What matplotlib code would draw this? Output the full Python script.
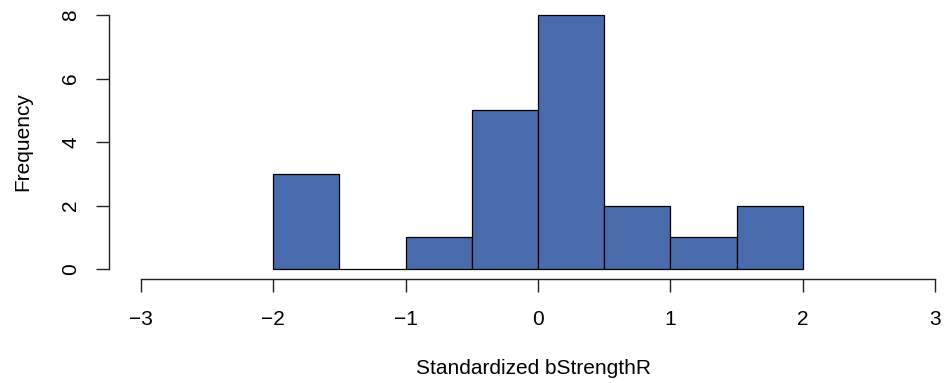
import matplotlib
matplotlib.use('Agg')
import matplotlib.pyplot as plt
import numpy as np

# histogram of standardized bStrengthR (bin edges + counts)
bin_edges = [-2.0, -1.5, -1.0, -0.5, 0.0, 0.5, 1.0, 1.5, 2.0]
counts = [3, 0, 1, 5, 8, 2, 1, 2]
x_ticks = [-3, -2, -1, 0, 1, 2, 3]
y_ticks = [0, 2, 4, 6, 8]

plt.rcParams['font.family'] = ['Liberation Sans', 'DejaVu Sans']

fig = plt.figure(figsize=(9.44, 3.83), dpi=100)
# R-style plot region: 4% padding around the axis ranges, partly off the right edge
ax = fig.add_axes([0.1155, 0.271, 0.9089, 0.7164])

edges = np.array(bin_edges)
ax.bar(edges[:-1], counts, width=np.diff(edges), align='edge',
	color='#4A6BAB', edgecolor='#000000', linewidth=0.9)

ax.set_xlim(-3.24, 3.24)
ax.set_ylim(-0.32, 8.32)

for side in ['top', 'right']:
	ax.spines[side].set_visible(False)
ax.spines['left'].set_bounds(0, 8)
ax.spines['bottom'].set_bounds(-3, 3)
for side in ['left', 'bottom']:
	ax.spines[side].set_linewidth(1.0)
	ax.spines[side].set_color('#222222')

ax.set_xticks(x_ticks)
ax.set_xticklabels(['\u22123', '\u22122', '\u22121', '0', '1', '2', '3'])
ax.set_yticks(y_ticks)
ax.set_yticklabels([str(v) for v in y_ticks], rotation=90, va='center')

ax.tick_params(axis='both', length=9.4, width=1.0, color='#222222', labelsize=15)
ax.tick_params(axis='x', pad=12.5)
ax.tick_params(axis='y', pad=11.5)

fig.text(533 / 944, 1 - 369 / 383, 'Standardized bStrengthR', ha='center', va='center', fontsize=15)
fig.text(23 / 944, 1 - 142 / 383, 'Frequency', ha='center', va='center', rotation=90, fontsize=15)

fig.savefig('out.png', dpi=100)
